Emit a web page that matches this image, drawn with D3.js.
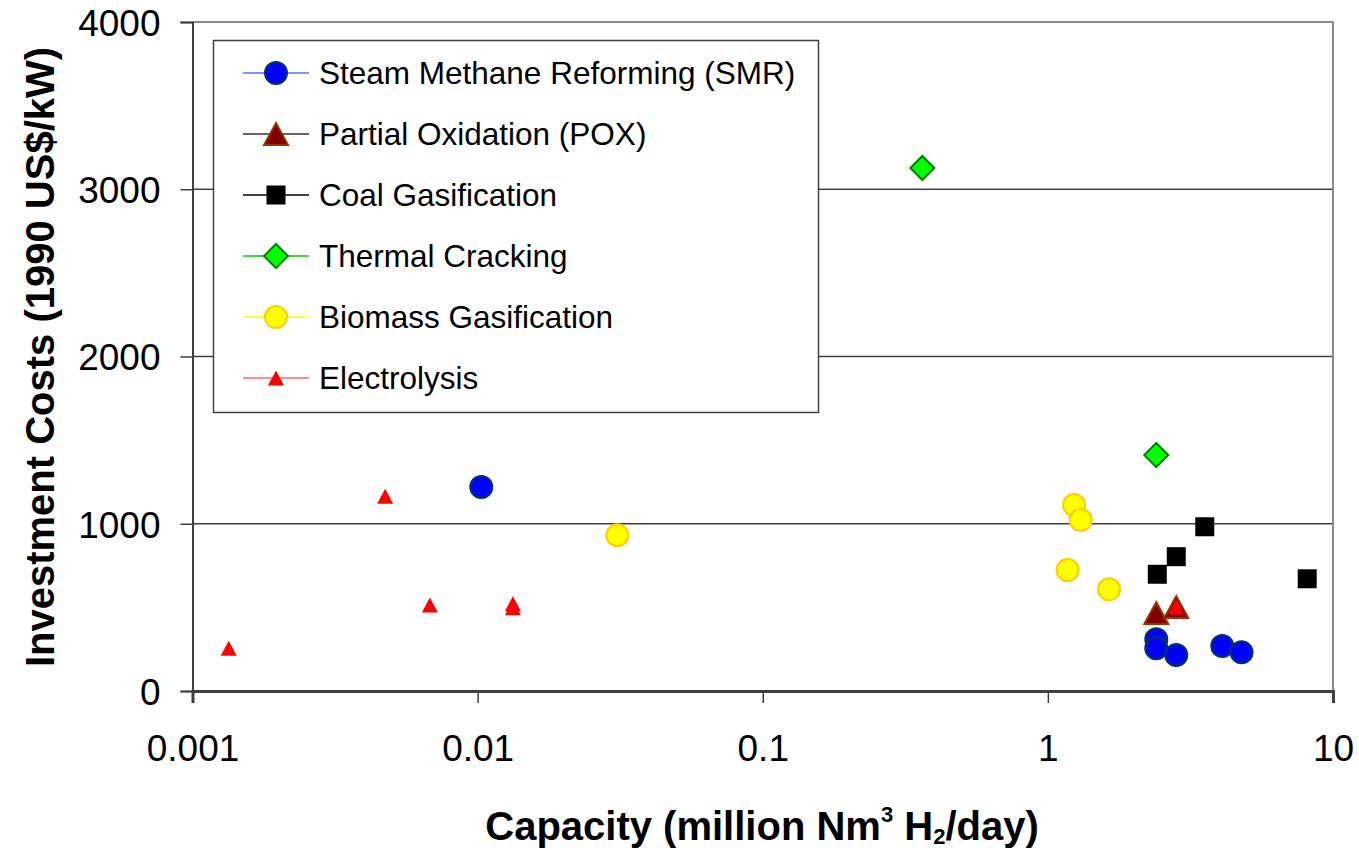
<!DOCTYPE html>
<html>
<head>
<meta charset="utf-8">
<script src="https://cdn.jsdelivr.net/npm/d3@7/dist/d3.min.js"></script>
<style>
  html, body { margin: 0; padding: 0; background: #ffffff; }
  svg { display: block; font-family: "Liberation Sans", Arial, sans-serif; }
</style>
</head>
<body>
<svg id="chart" width="1359" height="850"></svg>
<script>
// Capacity (million Nm3 H2/day) and investment cost (1990 US$/kW) per technology
const smrCapacity = [0.0103, 2.40, 2.40, 2.82, 4.09, 4.78];
const smrCost = [1220, 310, 255, 215, 269, 231];

const poxCapacity = [2.40, 2.82];
const poxCost = [466, 502];

const coalCapacity = [3.55, 2.82, 2.42, 8.12];
const coalCost = [982, 803, 698, 671];

const thermalCapacity = [0.363, 2.40];
const thermalCost = [3127, 1411];

const biomassCapacity = [0.0309, 1.236, 1.304, 1.173, 1.64];
const biomassCost = [931, 1112, 1022, 723, 608];

const electroCapacity = [0.00134, 0.00474, 0.0068, 0.0133, 0.0133, 2.82];
const electroCost = [255, 1165, 514, 522, 498, 502];

const seriesNames = [
  "Steam Methane Reforming (SMR)",
  "Partial Oxidation (POX)",
  "Coal Gasification",
  "Thermal Cracking",
  "Biomass Gasification",
  "Electrolysis"
];

const xTickValues = [0.001, 0.01, 0.1, 1, 10];
const xTickLabels = ["0.001", "0.01", "0.1", "1", "10"];
const yTickValues = [0, 1000, 2000, 3000, 4000];

// Marker styles per series
const styles = [
  { shape: "circle",   size: 11, fill: "#0000ff", stroke: "#003366", sw: 2, line: "#6666ff" },
  { shape: "triangle", w: 24, h: 22, fill: "#800000", stroke: "#993300", sw: 2, line: "#333333" },
  { shape: "square",   size: 19, fill: "#000000", stroke: "#000000", sw: 0, line: "#000000" },
  { shape: "diamond",  size: 12, fill: "#00ff00", stroke: "#008000", sw: 2, line: "#00cc00" },
  { shape: "circle",   size: 11, fill: "#ffff00", stroke: "#ffcc00", sw: 2, line: "#ffff00" },
  { shape: "triangle", w: 16, h: 15, fill: "#ff0000", stroke: "none", sw: 0, line: "#ff6666" }
];

const series = [
  { xs: smrCapacity, ys: smrCost },
  { xs: poxCapacity, ys: poxCost },
  { xs: coalCapacity, ys: coalCost },
  { xs: thermalCapacity, ys: thermalCost },
  { xs: biomassCapacity, ys: biomassCost },
  { xs: electroCapacity, ys: electroCost }
].map((s, i) => ({
  name: seriesNames[i],
  style: styles[i],
  points: s.xs.map((x, j) => ({ x: x, y: s.ys[j] }))
}));

const svg = d3.select("#chart");
const plot = { left: 192.5, right: 1333, top: 22, bottom: 691 };

const x = d3.scaleLog().domain([0.001, 10]).range([plot.left, plot.right]);
const y = d3.scaleLinear().domain([0, 4000]).range([plot.bottom, plot.top]);

function markerPath(st) {
  if (st.shape === "triangle") {
    const w = st.w / 2, h = st.h / 2;
    return `M0,${-h}L${w},${h}L${-w},${h}Z`;
  }
  if (st.shape === "square") {
    const s = st.size / 2;
    return `M${-s},${-s}H${s}V${s}H${-s}Z`;
  }
  if (st.shape === "diamond") {
    const s = st.size;
    return `M0,${-s}L${s},0L0,${s}L${-s},0Z`;
  }
  return null;
}

function drawMarker(g, st) {
  if (st.shape === "circle") {
    g.append("circle").attr("r", st.size)
      .attr("fill", st.fill).attr("stroke", st.stroke).attr("stroke-width", st.sw);
  } else {
    g.append("path").attr("d", markerPath(st))
      .attr("fill", st.fill).attr("stroke", st.stroke).attr("stroke-width", st.sw)
      .attr("stroke-linejoin", "miter");
  }
}

// Horizontal gridlines
svg.append("g")
  .selectAll("line")
  .data(yTickValues.filter(v => v > 0 && v < 4000))
  .join("line")
  .attr("x1", plot.left).attr("x2", plot.right)
  .attr("y1", d => y(d)).attr("y2", d => y(d))
  .attr("stroke", "#404040").attr("stroke-width", 1.5);

// Plot frame (top and right)
svg.append("path")
  .attr("d", `M${plot.left},${y(4000)}H${plot.right}V${plot.bottom}`)
  .attr("fill", "none").attr("stroke", "#8a8a8a").attr("stroke-width", 2);

// Y axis
const yAxis = svg.append("g")
  .attr("transform", `translate(${plot.left},0)`)
  .call(d3.axisLeft(y).tickValues(yTickValues).tickSize(12).tickPadding(20).tickFormat(d3.format("d")));
yAxis.select(".domain").attr("stroke", "#404040").attr("stroke-width", 2);
yAxis.selectAll(".tick line").attr("stroke", "#404040").attr("stroke-width", 1.5);
yAxis.selectAll(".tick text")
  .attr("font-size", 37).attr("fill", "#000").attr("font-family", "Liberation Sans, Arial, sans-serif")
  .attr("dy", "0.36em");

// X axis
const xAxis = svg.append("g")
  .attr("transform", `translate(0,${plot.bottom})`)
  .call(d3.axisBottom(x).tickValues(xTickValues).tickSize(12).tickPadding(32)
    .tickFormat((d, i) => xTickLabels[i]));
xAxis.select(".domain").attr("stroke", "#404040").attr("stroke-width", 3);
xAxis.selectAll(".tick line").attr("stroke", "#404040").attr("stroke-width", 1.5);
xAxis.selectAll(".tick text")
  .attr("font-size", 37).attr("fill", "#000").attr("font-family", "Liberation Sans, Arial, sans-serif");

// Axis titles
svg.append("text")
  .attr("x", 762).attr("y", 840)
  .attr("text-anchor", "middle")
  .attr("font-size", 40).attr("font-weight", "bold")
  .call(t => {
    t.append("tspan").text("Capacity (million Nm");
    t.append("tspan").attr("font-size", 22).attr("dy", -18).text("3");
    t.append("tspan").attr("dy", 18).text(" H");
    t.append("tspan").attr("font-size", 22).attr("dy", 4).text("2");
    t.append("tspan").attr("dy", -4).text("/day)");
  });

svg.append("text")
  .attr("transform", "translate(54,357) rotate(-90)")
  .attr("text-anchor", "middle")
  .attr("font-size", 40).attr("font-weight", "bold")
  .text("Investment Costs (1990 US$/kW)");

// Data markers
series.forEach(s => {
  const g = svg.append("g");
  s.points.forEach(p => {
    const m = g.append("g").attr("transform", `translate(${x(p.x)},${y(p.y)})`);
    drawMarker(m, s.style);
  });
});

// Legend
const legend = svg.append("g");
legend.append("rect")
  .attr("x", 213.5).attr("y", 40.5).attr("width", 605).attr("height", 372)
  .attr("fill", "#ffffff").attr("stroke", "#404040").attr("stroke-width", 1.5);

const rowY = d3.scalePoint().domain(seriesNames).range([73, 378]);
series.forEach(s => {
  const row = legend.append("g").attr("transform", `translate(0,${rowY(s.name)})`);
  row.append("line").attr("x1", 243).attr("x2", 309).attr("y1", 0).attr("y2", 0)
    .attr("stroke", s.style.line).attr("stroke-width", 1.5);
  const m = row.append("g").attr("transform", "translate(276,0)");
  drawMarker(m, s.style);
  row.append("text").attr("x", 319).attr("y", 0).attr("dy", "0.36em")
    .attr("font-size", 31.5).attr("fill", "#000").text(s.name);
});
</script>
</body>
</html>
